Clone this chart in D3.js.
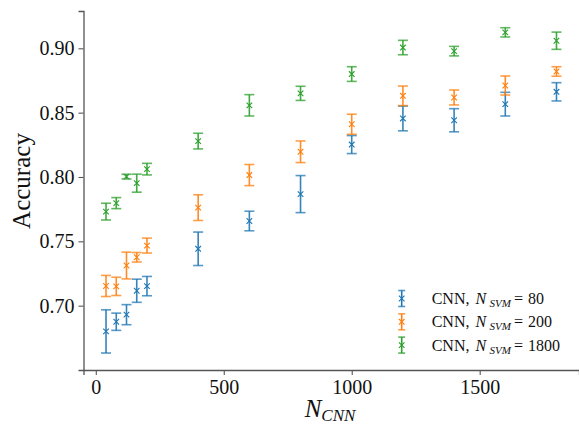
<!DOCTYPE html>
<html>
<head>
<meta charset="utf-8">
<script src="https://cdn.jsdelivr.net/npm/d3@7"></script>
<style>
  html, body { margin: 0; padding: 0; background: #fff; }
  svg { display: block; font-family: "Liberation Serif", "DejaVu Serif", serif; }
</style>
</head>
<body>
<svg id="chart" width="579" height="425"></svg>
<script>
// Training-set sizes for the CNN
const nCnn = [40, 80, 120, 160, 200, 400, 600, 800, 1000, 1200, 1400, 1600, 1800];

// Mean accuracy and its spread for each SVM training size
const acc80    = [0.680, 0.6875, 0.693, 0.7116, 0.7152, 0.7442, 0.7658, 0.7867, 0.8252, 0.8455, 0.8441, 0.8566, 0.8662];
const err80    = [0.0168, 0.0067, 0.0078, 0.0090, 0.0075, 0.0130, 0.0076, 0.0144, 0.0070, 0.0096, 0.0090, 0.0092, 0.0071];
const acc200   = [0.7153, 0.7150, 0.7312, 0.7376, 0.7467, 0.7762, 0.8015, 0.8196, 0.8410, 0.8631, 0.8618, 0.8711, 0.8820];
const err200   = [0.0082, 0.0071, 0.0104, 0.0037, 0.0058, 0.0100, 0.0082, 0.0084, 0.0078, 0.0076, 0.0058, 0.0074, 0.0037];
const acc1800  = [0.7731, 0.7797, 0.8003, 0.7952, 0.8061, 0.8279, 0.8557, 0.8650, 0.8800, 0.9006, 0.8978, 0.9124, 0.9059];
const err1800  = [0.0065, 0.0043, 0.0018, 0.0070, 0.0045, 0.0061, 0.0083, 0.0055, 0.0057, 0.0056, 0.0037, 0.0036, 0.0067];

const svmSizes = ["80", "200", "1800"];
const colors = ["#1f77b4", "#ff7f0e", "#2ca02c"];

const xTicks = [0, 500, 1000, 1500];
const yTicks = [0.70, 0.75, 0.80, 0.85, 0.90];

const series = [
  { n: svmSizes[0], acc: acc80,   err: err80,   color: colors[0] },
  { n: svmSizes[1], acc: acc200,  err: err200,  color: colors[1] },
  { n: svmSizes[2], acc: acc1800, err: err1800, color: colors[2] }
];

const svg = d3.select("#chart");

const x = d3.scaleLinear().domain([-48, 1888]).range([83.5, 579]);
const y = d3.scaleLinear().domain([0.650, 0.929]).range([370, 11]);

const axisColor = "#555";

// Axes
const xAxis = svg.append("g")
  .attr("transform", "translate(0,370)")
  .call(d3.axisBottom(x).tickValues(xTicks).tickFormat(d3.format("d")).tickSizeOuter(0).tickSize(5).tickPadding(5));
const yAxis = svg.append("g")
  .attr("transform", "translate(83.5,0)")
  .call(d3.axisLeft(y).tickValues(yTicks).tickFormat(d3.format(".2f")).tickSizeOuter(0).tickSize(5).tickPadding(4));

[xAxis, yAxis].forEach(g => {
  g.select(".domain").attr("stroke", axisColor).attr("stroke-width", 1.3);
  g.selectAll(".tick line").attr("stroke", axisColor).attr("stroke-width", 1.1);
  g.selectAll(".tick text")
    .attr("fill", "#111")
    .style("font-family", "'Liberation Serif', serif")
    .style("font-size", "20px");
});

// Axis titles
svg.append("text")
  .attr("transform", "translate(30,181) rotate(-90)")
  .attr("text-anchor", "middle")
  .style("font-size", "25px")
  .attr("fill", "#111")
  .text("Accuracy");

const xt = svg.append("text")
  .attr("x", 330)
  .attr("y", 417)
  .attr("text-anchor", "middle")
  .attr("fill", "#111");
xt.append("tspan").style("font-size", "25px").style("font-style", "italic").text("N");
xt.append("tspan").style("font-size", "17px").style("font-style", "italic").attr("dy", 4).text("CNN");

// Error bars with x markers
const capHalf = 5;
const mk = 2.8;

series.forEach(s => {
  const g = svg.append("g").attr("stroke", s.color).attr("fill", "none");
  nCnn.forEach((n, i) => {
    const cx = x(n);
    const y0 = y(s.acc[i] - s.err[i]);
    const y1 = y(s.acc[i] + s.err[i]);
    const cy = y(s.acc[i]);
    g.append("line").attr("x1", cx).attr("x2", cx).attr("y1", y0).attr("y2", y1)
      .attr("stroke-width", 1.6).attr("opacity", 0.9);
    [y0, y1].forEach(yy => {
      g.append("line").attr("x1", cx - capHalf).attr("x2", cx + capHalf).attr("y1", yy).attr("y2", yy)
        .attr("stroke-width", 1.6).attr("opacity", 0.75);
    });
    g.append("path")
      .attr("d", `M${cx - mk},${cy - mk}L${cx + mk},${cy + mk}M${cx - mk},${cy + mk}L${cx + mk},${cy - mk}`)
      .attr("stroke-width", 1.1);
  });
});

// Legend
const legend = svg.append("g");
series.forEach((s, i) => {
  const ly = 298.5 + i * 23.3;
  const lx = 401.7;
  const g = legend.append("g").attr("stroke", s.color);
  g.append("line").attr("x1", lx).attr("x2", lx).attr("y1", ly - 8).attr("y2", ly + 8).attr("stroke-width", 1.6);
  [ly - 8, ly + 8].forEach(yy => {
    g.append("line").attr("x1", lx - 3.5).attr("x2", lx + 3.5).attr("y1", yy).attr("y2", yy).attr("stroke-width", 1.6).attr("opacity", 0.75);
  });
  g.append("path")
    .attr("d", `M${lx - mk},${ly - mk}L${lx + mk},${ly + mk}M${lx - mk},${ly + mk}L${lx + mk},${ly - mk}`)
    .attr("stroke-width", 1.1);

  const base = ly + 5.5;
  const t = legend.append("text")
    .attr("y", base)
    .attr("fill", "#111")
    .style("font-size", "16px");
  t.append("tspan").attr("x", 431.7).text("CNN,");
  t.append("tspan").attr("x", 475.5).style("font-style", "italic").text("N");
  t.append("tspan").attr("x", 489.5).attr("y", base + 3).style("font-style", "italic").style("font-size", "11px").text("SVM");
  t.append("tspan").attr("x", 514).attr("y", base).text("=");
  t.append("tspan").attr("x", 528).text(s.n);
});
</script>
</body>
</html>
